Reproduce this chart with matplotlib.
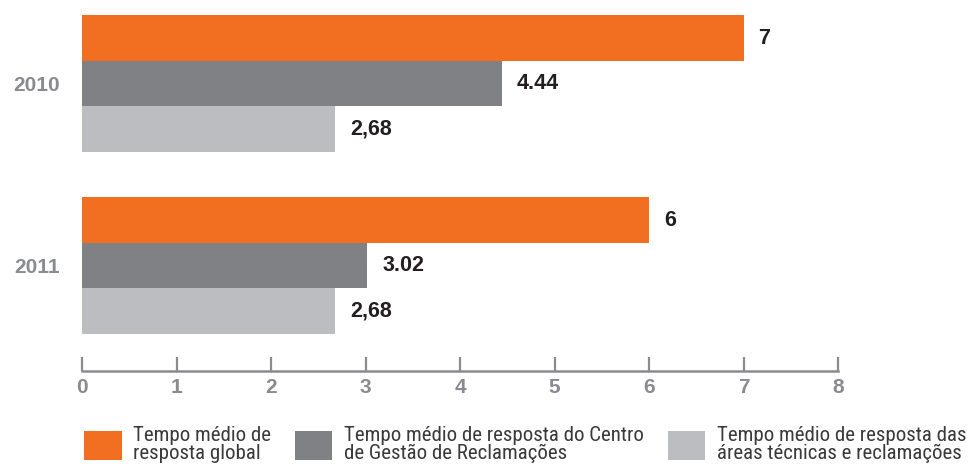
import matplotlib
matplotlib.use("Agg")
import matplotlib.pyplot as plt
from matplotlib.patches import Patch
from matplotlib import font_manager

# Data
years = ["2010", "2011"]
series_names = [
    "Tempo médio de\nresposta global",
    "Tempo médio de resposta do Centro\nde Gestão de Reclamações",
    "Tempo médio de resposta das\náreas técnicas e reclamações",
]
global_time = [7, 6]
centre_time = [4.44, 3.02]
technical_time = [2.68, 2.68]
value_labels = [["7", "4.44", "2,68"], ["6", "3.02", "2,68"]]
x_ticks = [0, 1, 2, 3, 4, 5, 6, 7, 8]

colors = ["#F26F21", "#808185", "#BCBDC0"]
axis_grey = "#8A8B8F"
text_dark = "#231F20"

bold_font = ["Liberation Sans", "DejaVu Sans"]

# Prefer a condensed face for the legend if one is installed
available = {f.name for f in font_manager.fontManager.ttflist}
narrow_prop = {"family": ["DejaVu Sans"], "size": 15, "stretch": "condensed"}
for cand in ["Liberation Sans Narrow", "Roboto Condensed", "Open Sans Condensed",
             "DejaVu Sans Condensed"]:
    if cand in available:
        narrow_prop = {"family": [cand, "DejaVu Sans"], "size": 15}
        break

fig = plt.figure(figsize=(9.73, 4.67), dpi=100)
ax = fig.add_axes([82 / 973, 1 - 371 / 467, (838 - 82) / 973, 371 / 467])

group_centres = [0, 4]
offsets = [-1, 0, 1]
series = [global_time, centre_time, technical_time]

for gi, centre in enumerate(group_centres):
    for si, off in enumerate(offsets):
        val = series[si][gi]
        y = centre + off
        ax.barh(y, val, height=1.0, color=colors[si], linewidth=0)
        ax.text(val + 0.16, y, value_labels[gi][si], va="center", ha="left",
                fontsize=15.5, fontweight="bold", color=text_dark, family=bold_font)

ax.set_xlim(0, 8)
ax.set_ylim(6.32, -1.84)

# y labels (years)
ax.set_yticks(group_centres)
ax.set_yticklabels(years)
ax.tick_params(axis="y", length=0, pad=16, labelsize=15, labelcolor=axis_grey)
for lab in ax.get_yticklabels():
    lab.set_fontweight("bold")
    lab.set_family(bold_font)

# x axis
ax.set_xticks(x_ticks)
ax.set_xticklabels([str(t) for t in x_ticks])
ax.tick_params(axis="x", direction="in", length=10, width=1.6, color=axis_grey,
               pad=5, labelsize=15, labelcolor=axis_grey)
for lab in ax.get_xticklabels():
    lab.set_fontweight("bold")
    lab.set_family(bold_font)

for side in ["top", "right", "left"]:
    ax.spines[side].set_visible(False)
ax.spines["bottom"].set_color(axis_grey)
ax.spines["bottom"].set_linewidth(1.8)
ax.patch.set_alpha(0)

# Legend
handles = [Patch(facecolor=c, edgecolor="none") for c in colors]
leg = fig.legend(handles, series_names, loc="lower left",
                 bbox_to_anchor=(84 / 973, 4 / 467), ncol=3, frameon=False,
                 borderpad=0, borderaxespad=0, handlelength=1.8, handleheight=1.8,
                 handletextpad=0.55, columnspacing=1.15, prop=narrow_prop)
for t in leg.get_texts():
    t.set_color("#3A3A3C")
    t.set_linespacing(0.92)

fig.savefig("out.png", dpi=100)
